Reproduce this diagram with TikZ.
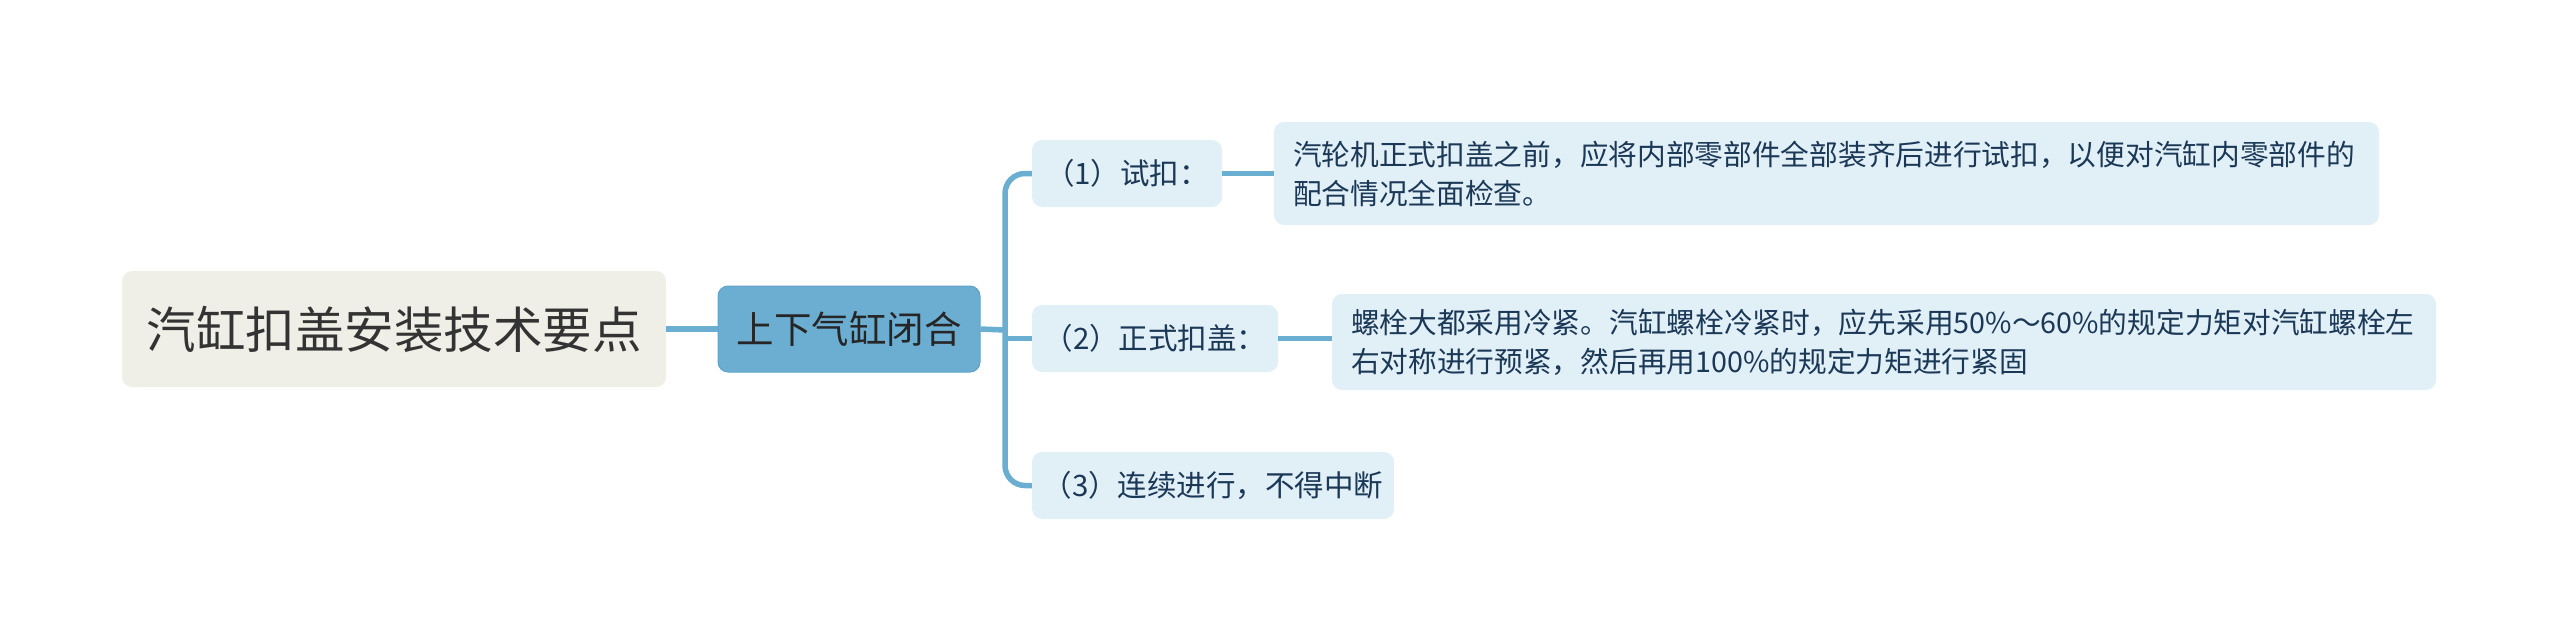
\documentclass[tikz,border=0pt]{standalone}
\usepackage{fontspec}
\setmainfont{Noto Sans CJK SC}
\definecolor{rootfill}{HTML}{EFEFE7}
\definecolor{mainfill}{HTML}{6BAED2}
\definecolor{maindraw}{HTML}{5FA3C8}
\definecolor{subfill}{HTML}{E1EFF7}
\definecolor{linec}{HTML}{6AAED1}
\definecolor{roottext}{HTML}{333333}
\definecolor{subtext}{HTML}{1B3856}
\tikzset{
  rootbox/.style={fill=rootfill, rounded corners=10pt, minimum width=544pt, minimum height=116pt, inner sep=0pt, text=roottext, font=\fontsize{49.5pt}{58pt}\selectfont},
  mainbox/.style={fill=mainfill, draw=maindraw, line width=1pt, rounded corners=10pt, minimum width=262pt, minimum height=86pt, inner sep=0pt, text=black!85, font=\fontsize{37.5pt}{44pt}\selectfont},
  subbox/.style={fill=subfill, rounded corners=10pt, minimum height=67pt, inner sep=0pt, text=subtext, font=\fontsize{29.5pt}{35pt}\selectfont},
  detailbox/.style={fill=subfill, rounded corners=10pt, inner sep=0pt, text=subtext, align=left, font=\fontsize{28.7pt}{39pt}\selectfont},
  conn/.style={draw=linec, line width=5.5pt},
}
\begin{document}
\begin{tikzpicture}[x=1pt,y=-1pt]
\useasboundingbox (0,0) rectangle (2560,641);
\node[rootbox] (root) at (394,329) {汽缸扣盖安装技术要点};
\node[mainbox] (main) at (849,329) {上下气缸闭合};
\node[subbox, minimum width=190pt] (c1) at (1127,173.5) {（1）试扣：};
\node[subbox, minimum width=246pt] (c2) at (1155,338.5) {（2）正式扣盖：};
\node[subbox, minimum width=362pt] (c3) at (1213,485.5) {（3）连续进行，不得中断};
\node[detailbox, minimum width=1105pt, minimum height=103pt, text width=1067pt] (d1) at (1826.5,173.5) {汽轮机正式扣盖之前，应将内部零部件全部装齐后进行试扣，以便对汽缸内零部件的\\配合情况全面检查。};
\node[detailbox, minimum width=1104pt, minimum height=96pt, text width=1066pt] (d2) at (1884,342) {螺栓大都采用冷紧。汽缸螺栓冷紧时，应先采用50\%～60\%的规定力矩对汽缸螺栓左\\右对称进行预紧，然后再用100\%的规定力矩进行紧固};
\coordinate (bar) at (1005,330);
\draw[conn] (root.east) -- (main.west);
\draw[conn] (main.east) -- (bar);
\draw[conn, rounded corners=20pt] (bar) |- (c1.west);
\draw[conn, rounded corners=20pt] (bar) |- (c3.west);
\draw[conn] (c2.west -| bar) -- (c2.west);
\draw[conn] (c1.east) -- (d1.west);
\draw[conn] (c2.east) -- (c2.east -| d2.west);
\end{tikzpicture}
\end{document}
